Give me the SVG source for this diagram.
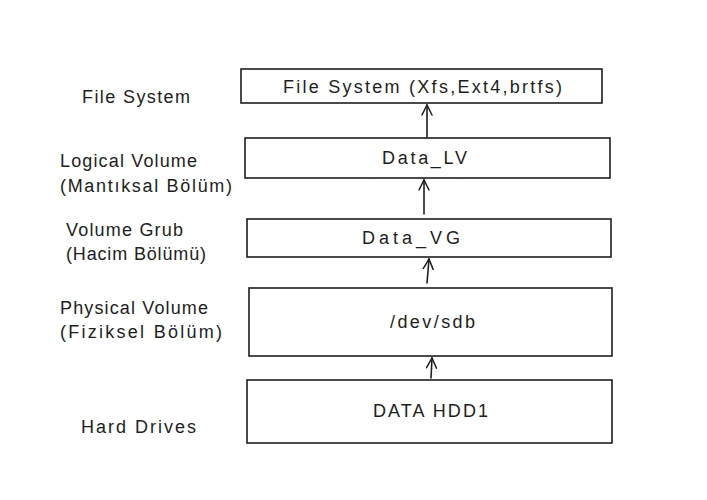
<svg xmlns="http://www.w3.org/2000/svg" width="707" height="500" viewBox="0 0 707 500">
<defs>
<style>
.box{fill:#ffffff;stroke:#1e1e1e;stroke-width:1.6}
.t{font-family:"Liberation Sans","DejaVu Sans",sans-serif;font-size:18px;fill:#1e1e1e}
.ln{stroke:#1e1e1e;stroke-width:1.6;fill:none;stroke-linecap:round;stroke-linejoin:round}
</style>
<marker id="ah" viewBox="0 0 12 12" refX="11" refY="6" markerWidth="12" markerHeight="12" markerUnits="userSpaceOnUse" orient="auto">
<path d="M1,1 L11,6 L1,11" fill="none" stroke="#1e1e1e" stroke-width="1.5" stroke-linecap="round"/>
</marker>
</defs>
<rect width="707" height="500" fill="#ffffff"/>
<g id="labels">
<text class="t" x="82" y="103" textLength="108">File System</text>
<text class="t" x="60" y="167" textLength="137">Logical Volume</text>
<text class="t" x="60" y="192" textLength="172">(Mantıksal Bölüm)</text>
<text class="t" x="66" y="236" textLength="117">Volume Grub</text>
<text class="t" x="66" y="260" textLength="140">(Hacim Bölümü)</text>
<text class="t" x="60" y="314" textLength="148">Physical Volume</text>
<text class="t" x="60" y="338" textLength="162">(Fiziksel Bölüm)</text>
<text class="t" x="81" y="433" textLength="115">Hard Drives</text>
</g>
<g id="connectors">
<line class="ln" x1="427" y1="137" x2="427" y2="105" marker-end="url(#ah)"/>
<line class="ln" x1="424" y1="214" x2="424" y2="180" marker-end="url(#ah)"/>
<line class="ln" x1="427" y1="283" x2="429" y2="259" marker-end="url(#ah)"/>
<line class="ln" x1="431" y1="378" x2="432" y2="358" marker-end="url(#ah)"/>
</g>
<g id="fs">
<rect class="box" x="241" y="69" width="361" height="34"/>
<text class="t" x="283" y="93" textLength="279">File System (Xfs,Ext4,brtfs)</text>
</g>
<g id="lv">
<rect class="box" x="245" y="138" width="365" height="40"/>
<text class="t" x="382" y="164" textLength="85">Data_LV</text>
</g>
<g id="vg">
<rect class="box" x="247" y="219" width="364" height="38"/>
<text class="t" x="362" y="244" textLength="98">Data_VG</text>
</g>
<g id="pv">
<rect class="box" x="249" y="288" width="363" height="68"/>
<text class="t" x="390" y="328" textLength="85">/dev/sdb</text>
</g>
<g id="hdd">
<rect class="box" x="247" y="380" width="365" height="63"/>
<text class="t" x="373" y="417" textLength="115">DATA HDD1</text>
</g>
</svg>
